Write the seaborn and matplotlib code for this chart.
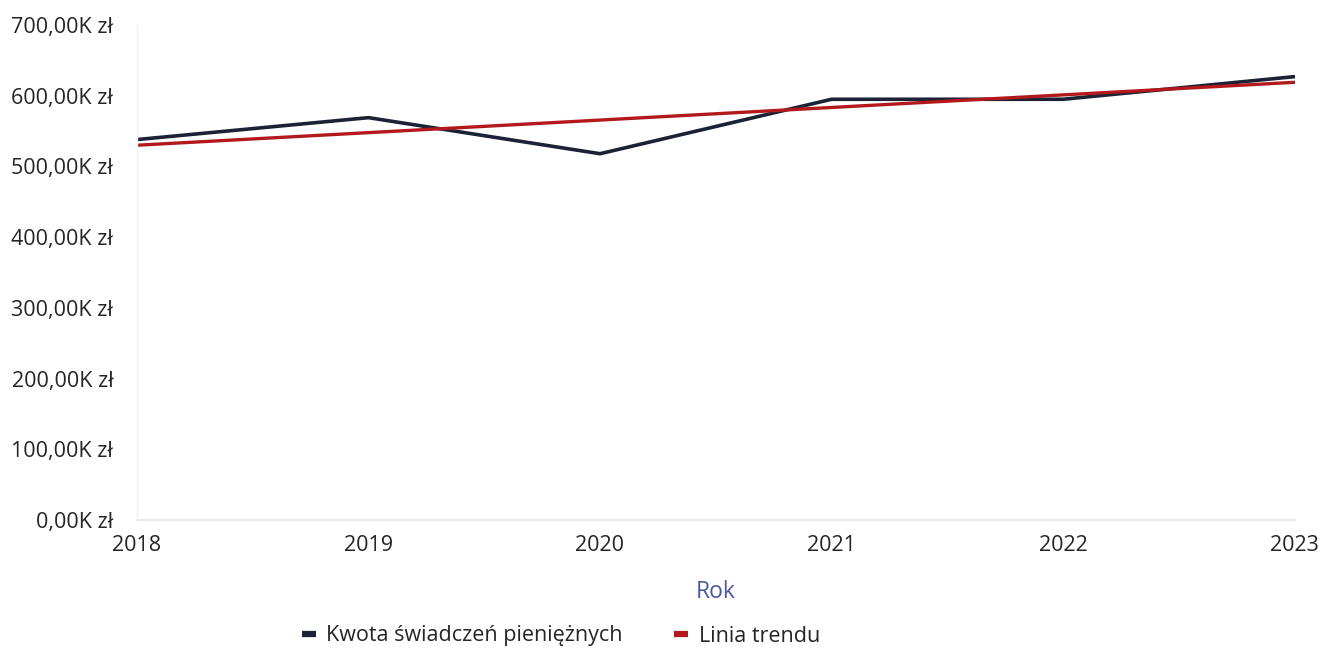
import matplotlib
matplotlib.use("Agg")
import matplotlib.pyplot as plt
import seaborn as sns
import pandas as pd
from matplotlib.ticker import FuncFormatter, FixedLocator

years = [2018, 2019, 2020, 2021, 2022, 2023]
amounts_k = [538, 569, 518, 595, 595, 627]          # Kwota świadczeń pieniężnych (tys. zł)
trend_years = [2018, 2023]
trend_k = [530, 619]                                  # Linia trendu (tys. zł)
y_ticks = [0, 100, 200, 300, 400, 500, 600, 700]

series_label = "Kwota świadczeń pieniężnych"
trend_label = "Linia trendu"

df = pd.DataFrame({"Rok": years, "Kwota": amounts_k})
df_trend = pd.DataFrame({"Rok": trend_years, "Kwota": trend_k})

sns.set_theme(style="white")
plt.rcParams["font.family"] = ["Open Sans", "DejaVu Sans"]

fig = plt.figure(figsize=(13.36, 6.5), dpi=100)
ax = fig.add_axes([0.1025, 0.2, 0.8665, 0.7615])

navy = "#1b2236"
red = "#b3191c"

sns.lineplot(data=df, x="Rok", y="Kwota", ax=ax, color=navy, linewidth=2.6, label=series_label)
sns.lineplot(data=df_trend, x="Rok", y="Kwota", ax=ax, color=red, linewidth=2.4, label=trend_label)

ax.set_xlim(years[0], years[-1])
ax.set_ylim(0, 700)
ax.xaxis.set_major_locator(FixedLocator(years))
ax.yaxis.set_major_locator(FixedLocator(y_ticks))
ax.yaxis.set_major_formatter(FuncFormatter(lambda v, p: f"{int(v)},00K zł"))
ax.xaxis.set_major_formatter(FuncFormatter(lambda v, p: f"{int(v)}"))

ax.tick_params(axis="both", length=0, labelsize=15.5, colors="#252525")
ax.tick_params(axis="y", pad=17)
ax.tick_params(axis="x", pad=11)

for s in ["top", "right"]:
    ax.spines[s].set_visible(False)
ax.spines["left"].set_color("#f2f2f2")
ax.spines["bottom"].set_color("#ececec")
ax.spines["left"].set_linewidth(1.0)
ax.spines["bottom"].set_linewidth(1.5)
ax.grid(False)

ax.set_ylabel("")
ax.set_xlabel("Rok", fontsize=16.5, color="#4a5aa0", labelpad=17)

ax.legend_.remove()
handles, labels = ax.get_legend_handles_labels()
leg = fig.legend(handles, labels, loc="center", bbox_to_anchor=(561 / 1336, 1 - 636 / 650),
                 ncol=2, frameon=False, fontsize=15.5, handlelength=0.65, handletextpad=0.5,
                 columnspacing=2.4)
for line in leg.get_lines():
    line.set_linewidth(4.5)
    line.set_solid_capstyle("butt")
for t in leg.get_texts():
    t.set_color("#252525")

fig.savefig("out.png", dpi=100)
